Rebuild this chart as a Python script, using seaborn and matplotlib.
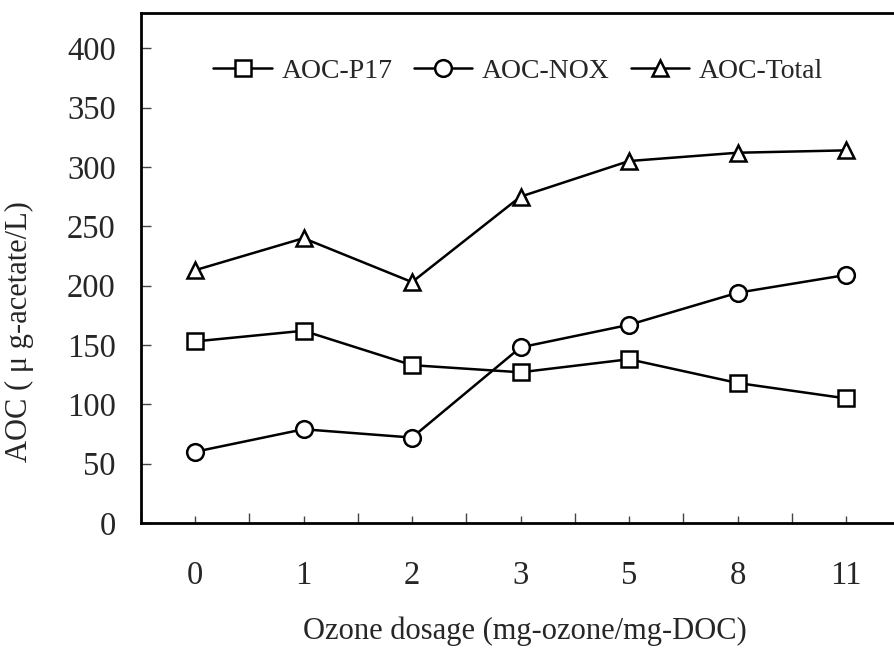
import numpy as np
import pandas as pd
import matplotlib
matplotlib.use("Agg")
import matplotlib.pyplot as plt
import seaborn as sns
from matplotlib.ticker import FixedLocator

# dados
dosagens = ["0", "1", "2", "3", "5", "8", "11"]
aoc_p17 = [153, 162, 133, 127, 138, 118, 105]
aoc_nox = [60, 79, 72, 148, 167, 194, 209]
aoc_total = [213, 240, 203, 275, 305, 312, 314]
series = ["AOC-P17", "AOC-NOX", "AOC-Total"]
marcadores = {"AOC-P17": "s", "AOC-NOX": "o", "AOC-Total": "^"}

df = pd.DataFrame({
    "dose": dosagens * 3,
    "aoc": aoc_p17 + aoc_nox + aoc_total,
    "serie": [s for s in series for _ in dosagens],
})

sns.set_style("white")
plt.rcParams["font.family"] = ["Liberation Serif", "DejaVu Serif"]

fig = plt.figure(figsize=(8.95, 6.48), dpi=100)
ax = fig.add_axes([0.1573, 0.1929, 0.8486, 0.7875])

sns.lineplot(data=df, x="dose", y="aoc", hue="serie", style="serie",
             hue_order=series, style_order=series,
             palette=["black"] * 3, markers=marcadores, dashes=False,
             markersize=12, markerfacecolor="white", markeredgecolor="black",
             markeredgewidth=1.8, linewidth=1.8, legend=False, ax=ax)

ax.set_xlim(-0.5, 6.5)
ax.set_ylim(0, 430)
ax.set_yticks(np.arange(0, 401, 50))
ax.xaxis.set_minor_locator(FixedLocator(np.arange(-0.5, 7, 1.0)))

ax.tick_params(axis="y", direction="in", length=7, width=1, pad=18,
               labelsize=23.5, left=True, color="#444444")
ax.tick_params(axis="x", which="major", direction="in", length=5, width=1,
               pad=27, labelsize=23.5, bottom=True, color="#444444")
ax.tick_params(axis="x", which="minor", direction="in", length=7.5, width=1,
               bottom=True, color="#444444")

for lado in ["left", "top", "bottom"]:
    ax.spines[lado].set_linewidth(2)
    ax.spines[lado].set_color("black")
ax.spines["right"].set_visible(False)

ax.set_xlabel("Ozone dosage (mg-ozone/mg-DOC)", fontsize=22)
ax.set_ylabel("AOC ( μ g-acetate/L)", fontsize=22)
ax.xaxis.set_label_coords(0.506, -0.183)
ax.yaxis.set_label_coords(-0.141, 0.376)

ax.legend(handles=ax.lines, labels=series, loc="center",
          bbox_to_anchor=(0.497, 0.885), ncol=3, frameon=False,
          fontsize=20, handlelength=2.1, handletextpad=0.36,
          columnspacing=0.75)

fig.savefig("out.png", dpi=100)
